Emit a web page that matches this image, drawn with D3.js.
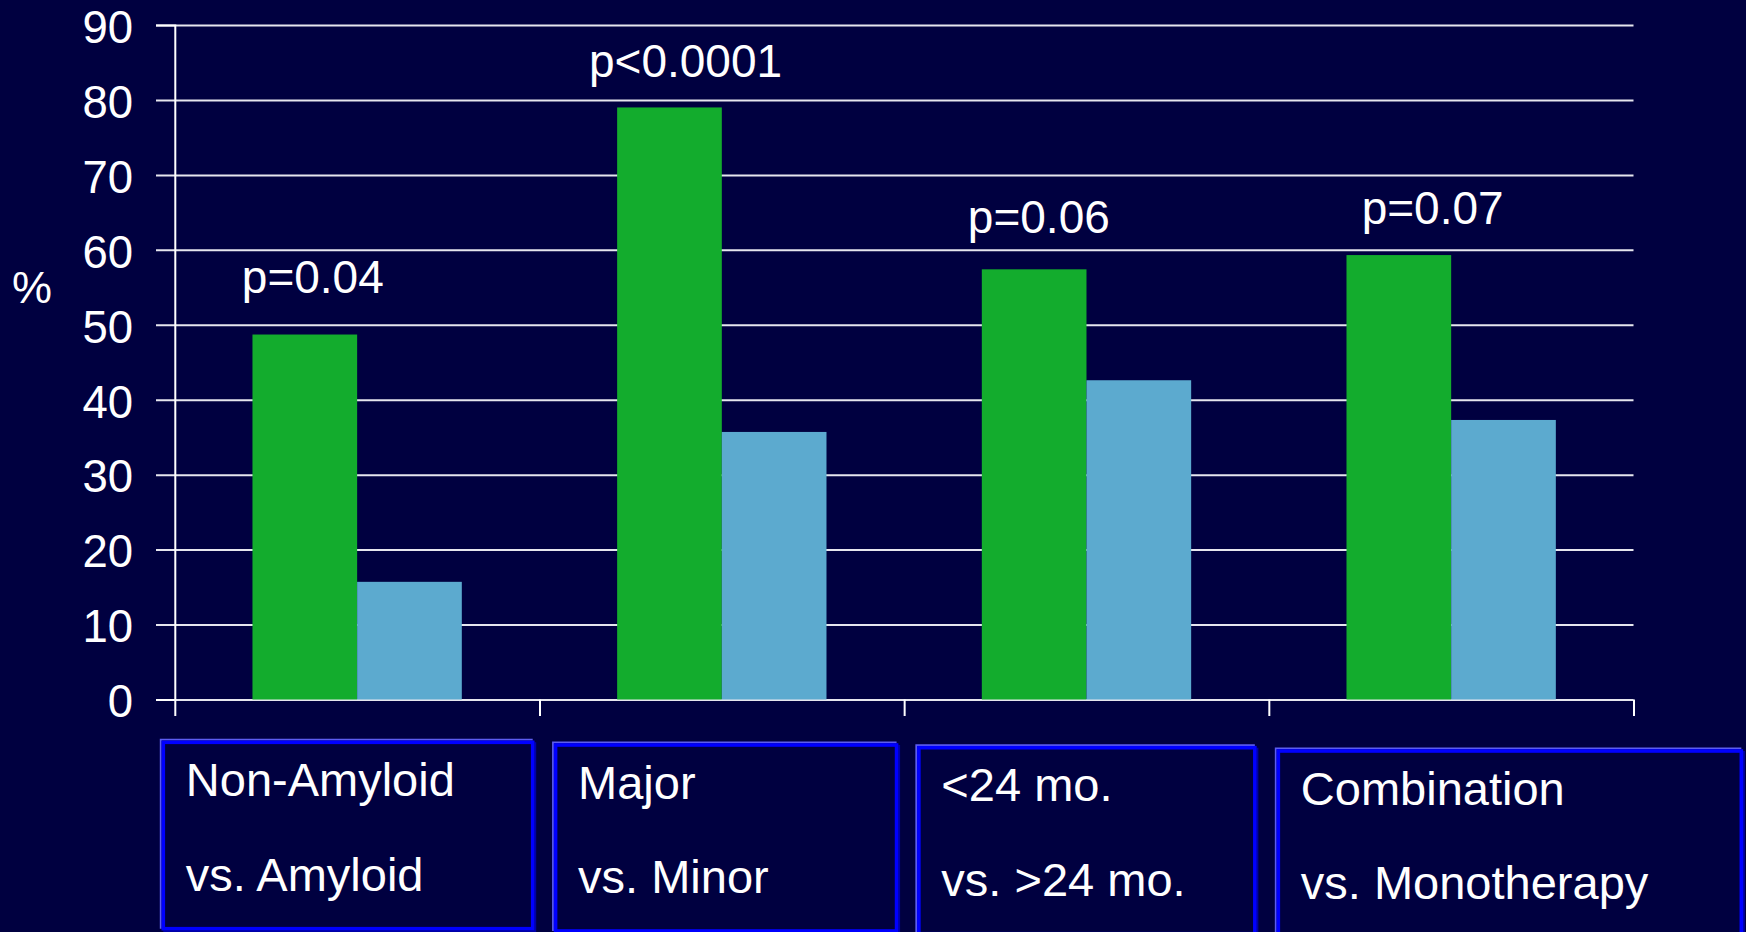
<!DOCTYPE html>
<html>
<head>
<meta charset="utf-8">
<script src="https://cdn.jsdelivr.net/npm/d3@7"></script>
<style>
  html, body { margin: 0; padding: 0; background: #000040; }
  svg { display: block; }
  text { font-family: "Liberation Sans", Arial, Helvetica, sans-serif; fill: #ffffff; }
</style>
</head>
<body>
<svg id="chart" width="1746" height="932"></svg>
<script>
// Category labels (two lines each)
const categories = [
  ["Non-Amyloid", "vs. Amyloid"],
  ["Major", "vs. Minor"],
  ["<24 mo.", "vs. >24 mo."],
  ["Combination", "vs. Monotherapy"]
];
// Percentages for the first and second group in each comparison
const firstGroup = [48.7, 79.0, 57.4, 59.3];
const secondGroup = [15.7, 35.7, 42.6, 37.3];
// Significance labels above each pair
const pLabels = ["p=0.04", "p<0.0001", "p=0.06", "p=0.07"];
// Y-axis ticks
const yTicks = [0, 10, 20, 30, 40, 50, 60, 70, 80, 90];
const yLabel = "%";

const seriesKeys = ["first", "second"];
const seriesColors = { first: "#13ac2d", second: "#5caacf" };

const svg = d3.select("#chart");
const W = 1746, H = 932;
svg.append("rect").attr("width", W).attr("height", H).attr("fill", "#000040");

const plot = { left: 174.8, right: 1633.5, top: 25, bottom: 699.5 };

const y = d3.scaleLinear().domain([0, 90]).range([plot.bottom, plot.top]);
const x0 = d3.scaleBand()
  .domain(d3.range(categories.length))
  .range([plot.left, plot.right])
  .padding(0);
const x1 = d3.scaleBand()
  .domain(seriesKeys)
  .range([0, x0.bandwidth()])
  .paddingInner(0)
  .paddingOuter(0.742);
const xEdge = d3.scaleLinear().domain([0, categories.length]).range([plot.left, plot.right]);

const rows = categories.map((c, i) => ({ i, first: firstGroup[i], second: secondGroup[i] }));

// Horizontal gridlines (with a short outward tick on the left)
const grid = svg.append("g")
  .attr("transform", `translate(${plot.left},0)`)
  .call(d3.axisLeft(y).tickValues(yTicks).tickSize(-(plot.right - plot.left)).tickFormat(""));
grid.select(".domain").remove();
grid.selectAll(".tick line")
  .attr("x1", -18.8)
  .attr("stroke", "#e6e6ee")
  .attr("stroke-width", 2);

// Bars
const groups = svg.append("g").selectAll("g")
  .data(rows)
  .join("g")
  .attr("transform", d => `translate(${x0(d.i)},0)`);
groups.selectAll("rect")
  .data(d => seriesKeys.map(k => ({ key: k, value: d[k] })))
  .join("rect")
  .attr("x", d => x1(d.key))
  .attr("width", x1.bandwidth())
  .attr("y", d => y(d.value))
  .attr("height", d => y(0) - y(d.value))
  .attr("fill", d => seriesColors[d.key]);

// Y axis with labels
const yAxis = svg.append("g")
  .attr("transform", `translate(${plot.left},0)`)
  .call(d3.axisLeft(y).tickValues(yTicks).tickSize(18.8).tickPadding(23).tickFormat(d3.format("d")));
yAxis.select(".domain").attr("stroke", "#ffffff").attr("stroke-width", 2);
yAxis.selectAll(".tick line").attr("stroke", "none");
yAxis.selectAll(".tick text")
  .attr("font-size", 45.5)
  .attr("fill", "#ffffff")
  .attr("dy", "0.38em")
  .style("font-family", '"Liberation Sans", Arial, sans-serif');

// X axis: ticks at category boundaries
const xAxis = svg.append("g")
  .attr("transform", `translate(0,${plot.bottom})`)
  .call(d3.axisBottom(xEdge).tickValues(d3.range(categories.length + 1)).tickSize(16.5).tickFormat(""));
xAxis.select(".domain").remove();
xAxis.selectAll(".tick line").attr("stroke", "#ffffff").attr("stroke-width", 2);

// "%" axis title
svg.append("text")
  .attr("x", 12)
  .attr("y", 303)
  .attr("font-size", 45)
  .text(yLabel);

// Significance labels, placed by hand relative to each pair
const pPlacement = [
  { dx: 67, value: 54.2 },
  { dx: 49.5, value: 83.0 },
  { dx: 63.7, value: 62.3 },
  { dx: 92.8, value: 63.4 }
];
svg.append("g").selectAll("text")
  .data(pLabels)
  .join("text")
  .attr("x", (d, i) => x0(i) + pPlacement[i].dx)
  .attr("y", (d, i) => y(pPlacement[i].value))
  .attr("font-size", 46)
  .text(d => d);

// Category boxes below the axis
const boxPlacement = [
  { dx: -11.5, top: 742.3, w: 369.4, h: 186.4 },
  { dx: 16.1, top: 745, w: 341, h: 186 },
  { dx: 14.7, top: 747.7, w: 336, h: 186 },
  { dx: 9.5, top: 751, w: 463, h: 186 }
];
const boxes = svg.append("g").selectAll("g")
  .data(categories)
  .join("g")
  .attr("transform", (d, i) => `translate(${x0(i) + boxPlacement[i].dx},${boxPlacement[i].top})`);

// soft light edge along top and left
boxes.append("path")
  .attr("d", (d, i) => `M-2.6,${boxPlacement[i].h} V-2.6 H${boxPlacement[i].w}`)
  .attr("fill", "none")
  .attr("stroke", "#5c5cf0")
  .attr("stroke-width", 1.8);
// darker edge along bottom and right
boxes.append("path")
  .attr("d", (d, i) => `M0,${boxPlacement[i].h + 2.6} H${boxPlacement[i].w + 2.6} V0`)
  .attr("fill", "none")
  .attr("stroke", "#0000a8")
  .attr("stroke-width", 1.8);
boxes.append("rect")
  .attr("width", (d, i) => boxPlacement[i].w)
  .attr("height", (d, i) => boxPlacement[i].h)
  .attr("fill", "#000040")
  .attr("stroke", "#0000ff")
  .attr("stroke-width", 3.6);

boxes.append("text")
  .attr("x", 22.5)
  .attr("y", 53.5)
  .attr("font-size", 47)
  .text(d => d[0]);
boxes.append("text")
  .attr("x", 22.5)
  .attr("y", 148.3)
  .attr("font-size", 47)
  .text(d => d[1]);
</script>
</body>
</html>
